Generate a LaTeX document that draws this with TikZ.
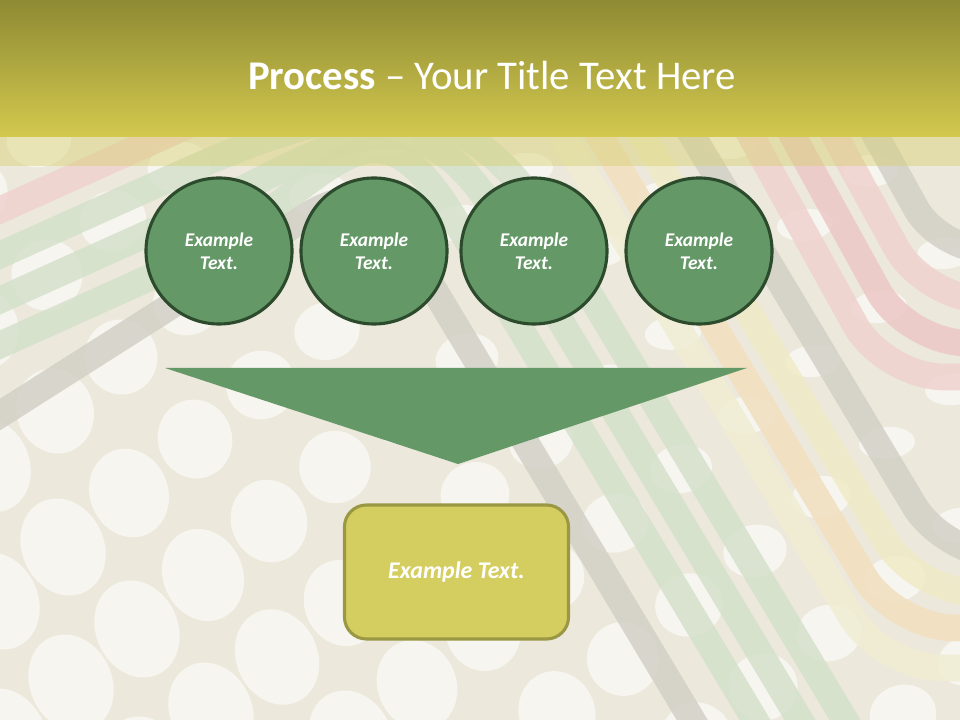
\documentclass[tikz,border=0pt]{standalone}
\usepackage{fontspec}
\setmainfont{Carlito}
\usetikzlibrary{positioning}
\definecolor{barTop}{HTML}{8E8A34}
\definecolor{barBottom}{HTML}{D3C94E}
\definecolor{bandTint}{HTML}{D8D070}
\definecolor{bgBeige}{HTML}{ECE8DB}
\definecolor{dotWhite}{HTML}{F6F5F0}
\definecolor{stripeGray}{HTML}{D3D0C6}
\definecolor{stripeGreen}{HTML}{D4E1CB}
\definecolor{stripePink}{HTML}{F0D2CF}
\definecolor{stripeRose}{HTML}{ECC8C7}
\definecolor{stripeOrange}{HTML}{F2DFBE}
\definecolor{stripeYellow}{HTML}{EFEBC6}
\definecolor{stripePale}{HTML}{F0EDD2}
\definecolor{stepGreen}{HTML}{659867}
\definecolor{stepLine}{HTML}{2C4B2C}
\definecolor{resultFill}{HTML}{D4CD60}
\definecolor{resultLine}{HTML}{9A9843}
\tikzset{
	band/.style={line width=19pt, opacity=0.85},
	stepcircle/.style={circle, draw=stepLine, line width=2.2pt, fill=stepGreen,
		minimum size=3.65cm, inner sep=0pt, text=white, align=center,
		font=\fontsize{13.8}{16.5}\selectfont\bfseries\itshape},
	resultbox/.style={rectangle, rounded corners=0.55cm, draw=resultLine, line width=2.2pt,
		fill=resultFill, minimum width=5.6cm, minimum height=3.35cm, text=white,
		font=\fontsize{17}{20}\selectfont\bfseries\itshape},
	titletext/.style={text=white, font=\fontsize{29}{33}\selectfont}
}
\begin{document}
\begin{tikzpicture}[x=0.025cm,y=-0.025cm]
	\useasboundingbox (0,0) rectangle (960,720);
	\clip (0,0) rectangle (960,720);
	%Background with the dots
	\fill[bgBeige] (0,0) rectangle (960,720);
	\foreach \i in {-10,...,18} {
		\foreach \j in {-10,...,10} {
			\pgfmathsetmacro{\ex}{63+66*\i+74*\j}
			\pgfmathsetmacro{\ey}{547-54*\i+82*\j}
			\pgfmathsetmacro{\et}{max(0,min(1,\ex/960+(500-\ey)/600))}
			\pgfmathsetmacro{\erx}{41-13*\et}
			\pgfmathsetmacro{\ery}{50-34*\et}
			\pgfmathsetmacro{\erot}{25-20*\et}
			\fill[dotWhite, rotate around={\erot:(\ex,\ey)}] (\ex,\ey) ellipse [x radius=\erx, y radius=\ery];
		}
	}
	%Stripes coming up from the left and going down to the right
	\draw[band, stripePink] (-40,228) -- (200,120);
	\foreach \ya/\xr in {255/545, 300/500, 345/455} {
		\draw[band, stripeGreen] (-40,\ya+18) -- (180,\ya-81)
			.. controls (330,\ya-148) and (\xr-90,70) .. (\xr,220) -- (\xr+336,780);
	}
	\draw[band, stripeGray] (-40,440) -- (240,262) .. controls (330,204) and (352,153) .. (430,283) -- (730,783);
	%Stripes going down and turning to the right
	\draw[band, stripePale, rounded corners=1.5cm] (541,100) -- (882,668) -- (1100,668);
	\draw[band, stripeOrange, rounded corners=1.5cm] (578,100) -- (895,628) -- (1100,628);
	\draw[band, stripeYellow, rounded corners=1.5cm] (621,100) -- (917,593) -- (1100,593);
	\draw[band, stripeGray, rounded corners=1.5cm] (671,100) -- (945,557) -- (1100,557);
	\draw[band, stripePink, rounded corners=1.5cm] (731,100) -- (884,377) -- (1100,377);
	\draw[band, stripeRose, rounded corners=1.5cm] (773,100) -- (907,343) -- (1100,343);
	\draw[band, stripePink, rounded corners=1.5cm] (815,100) -- (925,300) -- (1100,300);
	\draw[band, stripeGray, rounded corners=1.2cm] (856,100) -- (939,250) -- (1100,250);
	%Title bar
	\shade[top color=barTop, bottom color=barBottom] (0,0) rectangle (960,137);
	\fill[bandTint, opacity=0.45] (0,137) rectangle (960,166);
	\node[titletext] (title) at (492,75) {\textbf{Process} -- Your Title Text Here};
	%The four steps
	\node[stepcircle] (step1) at (219,251) {Example\\Text.};
	\node[stepcircle] (step2) at (374,251) {Example\\Text.};
	\node[stepcircle] (step3) at (534,251) {Example\\Text.};
	\node[stepcircle] (step4) at (699,251) {Example\\Text.};
	%Funnel pointing down
	\coordinate (funnelLeft) at (165,368);
	\coordinate (funnelRight) at (747,368);
	\coordinate (funnelTip) at (458,464);
	\fill[stepGreen] (funnelLeft) -- (funnelRight) -- (funnelTip) -- cycle;
	%Result
	\node[resultbox] (result) at (456.5,572) {Example Text.};
\end{tikzpicture}
\end{document}
